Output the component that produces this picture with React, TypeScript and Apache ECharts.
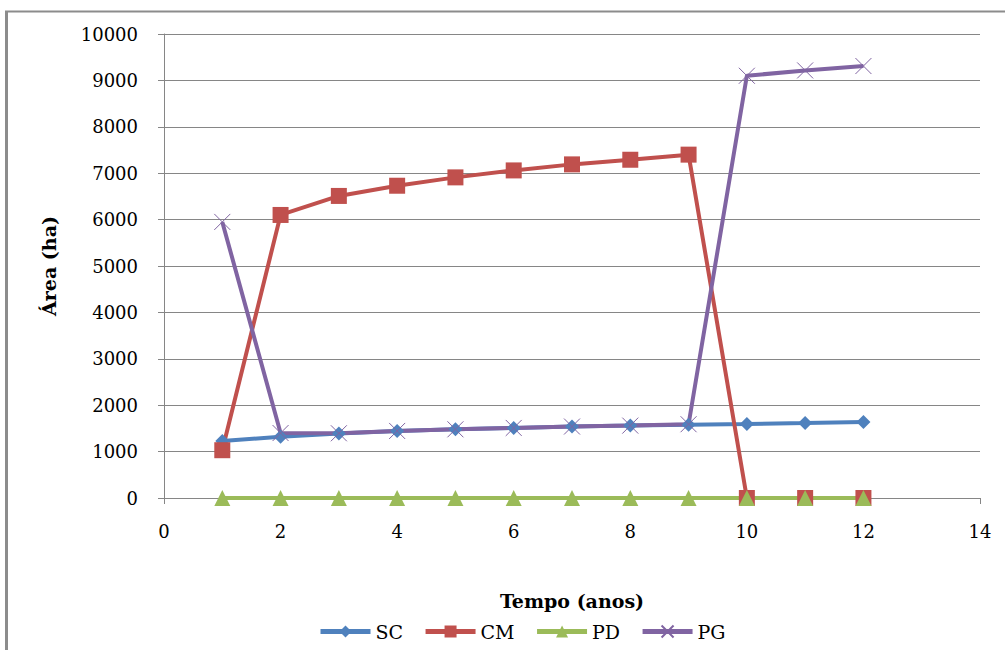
import React, { useEffect, useRef } from "react";
import * as echarts from "echarts";

const years = [1, 2, 3, 4, 5, 6, 7, 8, 9, 10, 11, 12];
const scValues = [1230, 1320, 1390, 1445, 1480, 1510, 1540, 1560, 1580, 1595, 1615, 1640];
const cmValues = [1030, 6100, 6510, 6730, 6910, 7060, 7190, 7290, 7400, 0, 0, 0];
const pdValues = [0, 0, 0, 0, 0, 0, 0, 0, 0, 0, 0, 0];
const pgValues = [5950, 1400, 1395, 1445, 1480, 1510, 1540, 1560, 1590, 9100, 9215, 9310];
const seriesNames = ["SC", "CM", "PD", "PG"];
const colors = ["#4F81BD", "#C0504D", "#9BBB59", "#8064A2"];

const FONT = "DejaVu Serif, serif";

export default function App() {
  const ref = useRef<HTMLDivElement>(null);
  useEffect(() => {
    if (!ref.current) return;
    const chart = echarts.init(ref.current, null, { renderer: "svg" });
    const pair = (vals: number[]) => years.map((x, i) => [x, vals[i]]);
    const crossPath = "path://M0,0L10,10M10,0L0,10";
    chart.setOption({
      animation: false,
      backgroundColor: "#ffffff",
      grid: { left: 164, right: 25, top: 34, bottom: 152, containLabel: false },
      legend: {
        bottom: 4,
        left: 313,
        itemWidth: 50,
        itemHeight: 15,
        itemGap: 20,
        data: seriesNames,
        lineStyle: { width: 5 },
        textStyle: { fontFamily: FONT, fontSize: 19, color: "#000" },
      },
      xAxis: {
        type: "value",
        min: 0,
        max: 14,
        interval: 2,
        name: "Tempo (anos)",
        nameLocation: "middle",
        nameGap: 93,
        nameTextStyle: { fontFamily: FONT, fontSize: 19, fontWeight: "bold", color: "#000" },
        axisLine: { show: true, lineStyle: { color: "#868686", width: 1 } },
        axisTick: { show: true, inside: false, length: 6, lineStyle: { color: "#868686" } },
        axisLabel: { fontFamily: FONT, fontSize: 18, color: "#000", margin: 24, formatter: (v: number) => String(v) },
        splitLine: { show: false },
      },
      yAxis: {
        type: "value",
        min: 0,
        max: 10000,
        interval: 1000,
        name: "Área (ha)",
        nameLocation: "middle",
        nameGap: 106,
        nameRotate: 90,
        nameTextStyle: { fontFamily: FONT, fontSize: 19, fontWeight: "bold", color: "#000" },
        axisLine: { show: true, lineStyle: { color: "#868686", width: 1 } },
        axisTick: { show: true, inside: false, length: 6, lineStyle: { color: "#868686" } },
        axisLabel: { fontFamily: FONT, fontSize: 18, color: "#000", margin: 26, formatter: (v: number) => String(v) },
        splitLine: { show: true, lineStyle: { color: "#868686", width: 1 } },
      },
      graphic: [
        { type: "line", shape: { x1: 6.5, y1: 11, x2: 6.5, y2: 650 }, style: { stroke: "#8c8c8c", lineWidth: 3 } },
        { type: "line", shape: { x1: 5, y1: 11.5, x2: 1005, y2: 11.5 }, style: { stroke: "#8c8c8c", lineWidth: 2 } },
      ],
      series: [
        {
          name: "SC",
          type: "line",
          data: pair(scValues),
          color: colors[0],
          lineStyle: { width: 4, color: colors[0] },
          symbol: "diamond",
          symbolSize: 14,
          itemStyle: { color: colors[0] },
        },
        {
          name: "CM",
          type: "line",
          data: pair(cmValues),
          color: colors[1],
          lineStyle: { width: 4, color: colors[1] },
          symbol: "rect",
          symbolSize: 16,
          itemStyle: { color: colors[1] },
        },
        {
          name: "PD",
          type: "line",
          data: pair(pdValues),
          color: colors[2],
          lineStyle: { width: 4, color: colors[2] },
          symbol: "triangle",
          symbolSize: 16,
          itemStyle: { color: colors[2] },
        },
        {
          name: "PG",
          type: "line",
          data: pair(pgValues),
          color: colors[3],
          lineStyle: { width: 4, color: colors[3] },
          symbol: crossPath,
          symbolSize: 16,
          itemStyle: { color: "rgba(0,0,0,0)", borderColor: colors[3], borderWidth: 1 },
        },
      ],
    });
    return () => chart.dispose();
  }, []);
  return (
    <div
      ref={ref}
      style={{ position: "absolute", left: 0, top: 0, width: 1005, height: 650 }}
    />
  );
}
